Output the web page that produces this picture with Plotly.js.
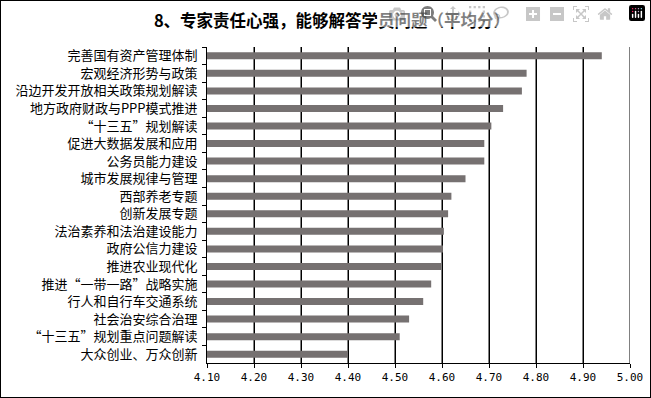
<!DOCTYPE html>
<html><head><meta charset="utf-8">
<script src="https://cdn.plot.ly/plotly-3.0.1.min.js"></script>
<style>
html,body{margin:0;padding:0;background:#fff;}
#chart{width:651px;height:398px;position:absolute;left:0;top:0;}
#frame{position:absolute;left:0;top:0;width:651px;height:398px;box-sizing:border-box;border:1px solid #000;pointer-events:none;}
</style></head>
<body><div id="chart"></div><div id="frame"></div>
<script>
const categories = ["完善国有资产管理体制","宏观经济形势与政策","沿边开发开放相关政策规划解读","地方政府财政与PPP模式推进","“十三五”规划解读","促进大数据发展和应用","公务员能力建设","城市发展规律与管理","西部养老专题","创新发展专题","法治素养和法治建设能力","政府公信力建设","推进农业现代化","推进“一带一路”战略实施","行人和自行车交通系统","社会治安综合治理","“十三五”规划重点问题解读","大众创业、万众创新"];
const scores = [4.94,4.78,4.77,4.73,4.705,4.69,4.69,4.65,4.62,4.613,4.604,4.602,4.598,4.577,4.56,4.53,4.51,4.40];
const xTicks = [4.1,4.2,4.3,4.4,4.5,4.6,4.7,4.8,4.9,5.0];
const titleText = "8、专家责任心强，能够解答学员问题（平均分）";

const trace = {
  type:'bar', orientation:'h', x:scores, y:categories,
  marker:{color:'#767171'},
  hoverinfo:'none'
};
const gridShapes = xTicks.slice(1).map(v => ({
  type:'line', xref:'x', yref:'paper', x0:v, x1:v, y0:0, y1:1,
  layer:'below', line:{color:'#000', width:1}
}));
const layout = {
  width:651, height:398,
  margin:{l:207, r:21, t:47, b:35},
  bargap:0.6,
  showlegend:false,
  shapes:gridShapes,
  title:{text:'<b>'+titleText+'</b>', x:0.51, xanchor:'center', y:0.947, yanchor:'middle',
    font:{family:'Noto Sans CJK SC', size:16.5, color:'#000'}},
  xaxis:{range:[xTicks[0], xTicks[xTicks.length-1]], dtick:0.1, tick0:xTicks[0], tickformat:'.2f',
    showgrid:true, gridcolor:'#000',
    showline:true, linecolor:'#000',
    ticks:'outside', ticklen:4, tickcolor:'#000',
    tickfont:{family:'DejaVu Sans Mono', size:11, color:'#000'},
    zeroline:false},
  yaxis:{autorange:'reversed',
    showline:true, linecolor:'#000',
    ticks:'outside', ticklen:4, tickcolor:'#000', tickson:'boundaries',
    tickfont:{family:'Noto Sans CJK SC', size:13, color:'#000'},
    showgrid:false, zeroline:false, ticksuffix:'  '}
};
Plotly.newPlot('chart',[trace],layout);
</script></body></html>
